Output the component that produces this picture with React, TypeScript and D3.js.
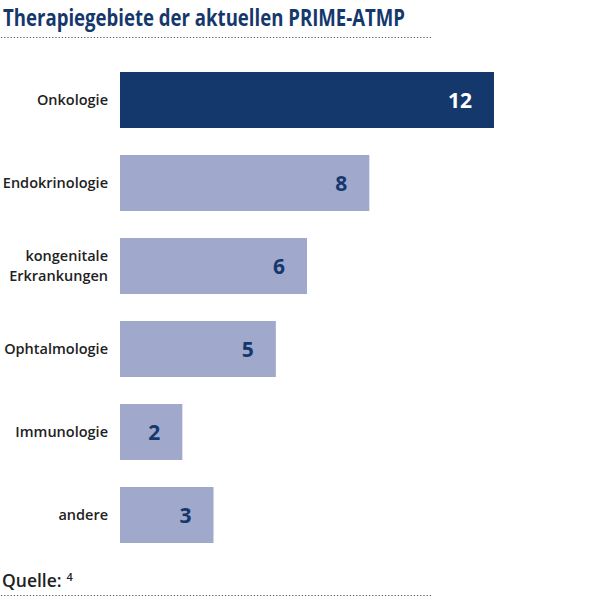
import React from 'react';
import * as d3 from 'd3';

const categories = ['Onkologie', 'Endokrinologie', 'kongenitale\nErkrankungen', 'Ophtalmologie', 'Immunologie', 'andere'];
const values = [12, 8, 6, 5, 2, 3];
const highlight = ['Onkologie'];

const navy = '#15386c';
const lightBar = '#a0a8cc';
const textDark = '#222222';

const App: React.FC = () => {
  const width = 600;
  const height = 600;

  const x = d3.scaleLinear().domain([0, 12]).range([120, 494]);
  const y = d3.scaleBand()
    .domain(categories)
    .range([72, 543])
    .paddingInner(27 / 83)
    .paddingOuter(0);

  const font = '"Open Sans", "Noto Sans", sans-serif';

  return (
    <div style={{ position: 'fixed', left: 0, top: 0, background: '#fff' }}>
      <svg width={width} height={height} style={{ display: 'block' }}>
        {/* Title */}
        <text x={3} y={26} fontFamily={font} fontWeight={700} fontSize={23.5} fill={navy}
          textLength={402} lengthAdjust="spacingAndGlyphs">
          Therapiegebiete der aktuellen PRIME-ATMP
        </text>
        <line x1={1} x2={432} y1={37.5} y2={37.5} stroke="#555" strokeWidth={1.2} strokeDasharray="1.2 2" />

        {/* Bars */}
        {categories.map((c, i) => {
          const y0 = y(c) || 0;
          const bw = y.bandwidth();
          const isHi = highlight.includes(c);
          const lines = c.split('\n');
          const cy = y0 + bw / 2;
          return (
            <g key={c}>
              <rect x={x(0)} y={y0} width={x(values[i]) - x(0)} height={bw} fill={isHi ? navy : lightBar} />
              {lines.map((l, j) => (
                <text key={j} x={108} y={cy + (j - (lines.length - 1) / 2) * 20} dy="0.35em"
                  textAnchor="end" fontFamily={font} fontWeight={600} fontSize={14.5} fill={textDark}>
                  {l}
                </text>
              ))}
              <text x={x(values[i]) - 22} y={cy} dy="0.36em" textAnchor="end" fontFamily={font}
                fontWeight={700} fontSize={21} fill={isHi ? '#ffffff' : navy}>
                {values[i]}
              </text>
            </g>
          );
        })}

        {/* Source */}
        <text x={2} y={587} fontFamily={font} fontWeight={600} fontSize={17.5} fill={textDark}>
          Quelle:
          <tspan dx={5} dy={-6} fontSize={11}>4</tspan>
        </text>
        <line x1={1} x2={432} y1={595.5} y2={595.5} stroke="#555" strokeWidth={1.2} strokeDasharray="1.2 2" />
      </svg>
    </div>
  );
};

export default App;
